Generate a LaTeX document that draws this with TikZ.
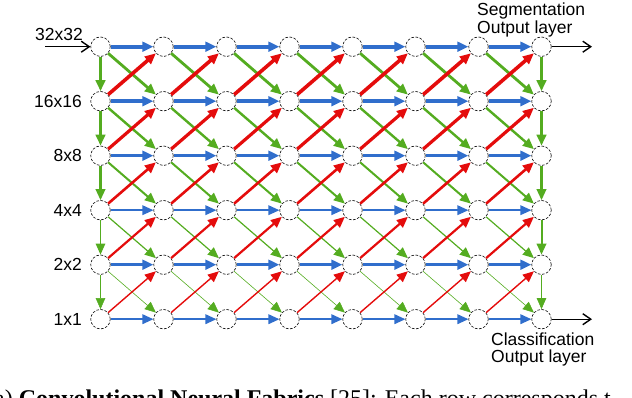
\documentclass[tikz,border=0pt]{standalone}
\usepackage{fontspec}
\setmainfont{Liberation Serif}
\newfontfamily\etichetta{Liberation Sans}
\usetikzlibrary{arrows.meta}
\definecolor{bluF}{RGB}{48,110,204}
\definecolor{verdeF}{RGB}{84,172,32}
\definecolor{rossoF}{RGB}{228,12,12}

\begin{document}
\begin{tikzpicture}[x=1pt, y=-1pt, >={Triangle[length=11pt,width=9.5pt]}]
% Stili per nodi, frecce ed etichette
\tikzset{
  nodo/.style={circle, draw, dash pattern=on 2.6pt off 1.6pt, line width=0.6pt, minimum size=19.5pt, inner sep=0pt},
  orizz/.style={->, color=bluF},
  scende/.style={->, color=verdeF},
  sale/.style={->, color=rossoF},
  freccia/.style={-{Straight Barb[length=8pt,width=11pt]}, line width=1.4pt, black},
  lab/.style={font=\etichetta\fontsize{17.5}{17.5}\selectfont, inner sep=0pt}
}

% Parametri della griglia
\def\xo{100.5}   % ascissa prima colonna
\def\yo{46.7}    % ordinata prima riga
\def\dx{63}      % passo orizzontale
\def\dy{54.5}    % passo verticale

\useasboundingbox (0,0) rectangle (632,398);

% --- NODI DELLA GRIGLIA ---
\foreach \r in {1,...,6}
  \foreach \c in {1,...,8}
    \node[nodo] (n-\r-\c) at ({\xo+\dx*(\c-1)}, {\yo+\dy*(\r-1)}) {};

% --- COLLEGAMENTI ORIZZONTALI (stessa scala) ---
\foreach \r/\w in {1/4pt, 2/3.4pt, 3/3pt, 4/1.8pt, 5/3pt, 6/2pt} {
  \foreach \c in {1,...,7} {
    \pgfmathtruncatemacro{\cc}{\c+1}
    \draw[orizz, line width=\w] (n-\r-\c) -- (n-\r-\cc);
  }
}

% --- DIAGONALI: verdi verso il basso, rosse verso l'alto ---
\foreach \r/\wv/\wr in {1/2.8pt/3.6pt, 2/2.4pt/3.2pt, 3/2pt/2.6pt, 4/1.2pt/2.2pt, 5/0.6pt/1.4pt} {
  \pgfmathtruncatemacro{\rr}{\r+1}
  \foreach \c in {1,...,7} {
    \pgfmathtruncatemacro{\cc}{\c+1}
    \draw[scende, line width=\wv] (n-\r-\c) -- (n-\rr-\cc);
  }
  \foreach \c in {1,...,7} {
    \pgfmathtruncatemacro{\cc}{\c+1}
    \draw[sale, line width=\wr] (n-\rr-\c) -- (n-\r-\cc);
  }
}

% --- VERTICALI NELLA PRIMA E NELL'ULTIMA COLONNA ---
\foreach \r/\wa/\wb in {1/3pt/3pt, 2/2.6pt/3pt, 3/2.2pt/2.2pt, 4/1.2pt/2pt, 5/0.5pt/0.6pt} {
  \pgfmathtruncatemacro{\rr}{\r+1}
  \draw[scende, line width=\wa] (n-\r-1) -- (n-\rr-1);
  \draw[scende, line width=\wb] (n-\r-8) -- (n-\rr-8);
}

% Etichette delle scale
\node[lab, anchor=east] (lab-1) at (83,34) {32x32};
\foreach \r/\t in {2/16x16, 3/8x8, 4/4x4, 5/2x2, 6/1x1}
  \node[lab, anchor=east] (lab-\r) at (82, {\yo+\dy*(\r-1)}) {\t};

% Ingresso e uscite
\coordinate (ingresso) at (45,\yo);
\coordinate (uscitaS) at (592,\yo);
\coordinate (uscitaC) at (592,{\yo+\dy*5});
\draw[freccia] (ingresso) -- (n-1-1);
\draw[freccia] (n-1-8) -- (uscitaS);
\draw[freccia] (n-6-8) -- (uscitaC);

\node[lab, anchor=north west, align=left] (seg) at (477,3) {Segmentation\\Output layer};
\node[lab, anchor=north west, align=left] (cla) at (491,332.5) {Classification\\Output layer};

% Didascalia (tagliata dal bordo)
\node[anchor=base west, inner sep=0pt, font=\fontsize{24}{28}\selectfont] (didascalia) at (-14,406.6)
  {(a) \textbf{Convolutional Neural Fabrics} [25]: Each row corresponds t};

\end{tikzpicture}
\end{document}
